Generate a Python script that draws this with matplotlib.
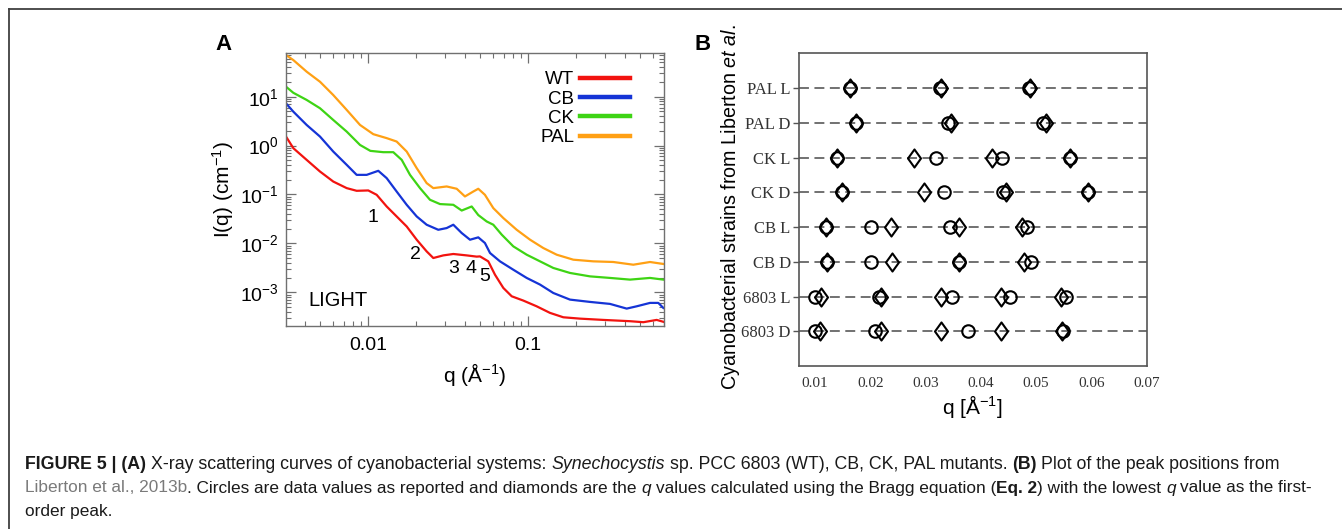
import matplotlib
matplotlib.use("Agg")
import matplotlib.pyplot as plt
import matplotlib.ticker as mticker
from matplotlib.transforms import IdentityTransform
from matplotlib.path import Path
import numpy as np

plt.rcParams['font.family'] = ['Liberation Sans', 'DejaVu Sans']
plt.rcParams['mathtext.fontset'] = 'custom'
plt.rcParams['mathtext.rm'] = 'Liberation Sans'
plt.rcParams['mathtext.it'] = 'Liberation Sans:italic'
plt.rcParams['mathtext.bf'] = 'Liberation Sans:bold'

# ---------------- Panel A data (SAXS curves) ----------------
q_wt = [0.00306, 0.0034, 0.00412, 0.00499, 0.00604, 0.00733, 0.00846, 0.0100, 0.01128,
        0.01303, 0.01504, 0.01738, 0.02007, 0.02316, 0.02549, 0.02943, 0.03399, 0.04121,
        0.04758, 0.04989, 0.05623, 0.06194, 0.06982, 0.07878, 0.09311, 0.1128, 0.1367,
        0.1656, 0.2104, 0.2943, 0.4323, 0.5236, 0.6344, 0.6982]
i_wt = [1.53, 0.885, 0.51, 0.295, 0.184, 0.135, 0.119, 0.121, 0.0986,
        0.0569, 0.0356, 0.0222, 0.0119, 0.00687, 0.00503, 0.00569, 0.00608, 0.00569,
        0.00537, 0.00543, 0.0043, 0.00229, 0.00123, 8.3e-4, 6.78e-4, 5.18e-4, 3.8e-4,
        3.09e-4, 2.9e-4, 2.73e-4, 2.57e-4, 2.45e-4, 2.73e-4, 2.5e-4]

q_cb = [0.00306, 0.0034, 0.00412, 0.00499, 0.00604, 0.00733, 0.00846, 0.00977, 0.01155,
        0.01303, 0.01504, 0.01738, 0.02007, 0.02316, 0.02738, 0.0309, 0.03399, 0.03836,
        0.04323, 0.04869, 0.05357, 0.05765, 0.06653, 0.08061, 0.09772, 0.1184, 0.1433,
        0.1822, 0.2430, 0.3241, 0.4121, 0.4758, 0.5765, 0.6494, 0.6982]
i_cb = [7.3, 4.94, 2.64, 1.53, 0.755, 0.404, 0.252, 0.252, 0.305,
        0.216, 0.115, 0.0616, 0.0356, 0.0241, 0.019, 0.0206, 0.0241, 0.0163,
        0.0119, 0.0133, 0.0102, 0.00637, 0.0043, 0.0029, 0.00197, 0.00144, 9.7e-4,
        7.1e-4, 6.37e-4, 5.8e-4, 4.65e-4, 5.18e-4, 6.08e-4, 6.08e-4, 4.8e-4]

q_ck = [0.00306, 0.0034, 0.00412, 0.00499, 0.00604, 0.00733, 0.00888, 0.0103, 0.0124,
        0.01433, 0.01618, 0.01823, 0.02105, 0.0243, 0.02807, 0.03399, 0.03836, 0.04429,
        0.04869, 0.05495, 0.06044, 0.06823, 0.08061, 0.09772, 0.1184, 0.1433, 0.1822,
        0.2430, 0.3241, 0.4323, 0.5765, 0.6982]
i_ck = [16.0, 12.0, 8.57, 5.8, 3.34, 1.93, 1.03, 0.78, 0.733,
        0.733, 0.51, 0.252, 0.135, 0.078, 0.0637, 0.0616, 0.047, 0.0569,
        0.038, 0.0281, 0.0241, 0.0151, 0.0087, 0.00588, 0.0043, 0.00315, 0.00249,
        0.00212, 0.00197, 0.00182, 0.00197, 0.00182]

q_pal = [0.00306, 0.0034, 0.00412, 0.00499, 0.00604, 0.00733, 0.00888, 0.01075, 0.01303,
         0.01504, 0.01738, 0.02007, 0.02316, 0.02549, 0.0309, 0.03569, 0.04019, 0.04532,
         0.04869, 0.05357, 0.06044, 0.06982, 0.08464, 0.1026, 0.1241, 0.1505, 0.1911,
         0.2547, 0.3399, 0.4532, 0.5765, 0.6982]
i_pal = [71, 56, 32.4, 20.2, 10.8, 5.36, 2.64, 1.71, 1.42,
         1.21, 0.755, 0.346, 0.171, 0.135, 0.146, 0.131, 0.0912, 0.115,
         0.131, 0.0986, 0.0527, 0.033, 0.019, 0.0119, 0.00805, 0.00588, 0.00465,
         0.0043, 0.00417, 0.00367, 0.00417, 0.0038]

series_names = ["WT", "CB", "CK", "PAL"]
series_colors = ["#f2130f", "#1534d6", "#3ed414", "#ffa014"]

peak_labels = ["1", "2", "3", "4", "5"]
peak_q = [0.0107, 0.0196, 0.0344, 0.0439, 0.0536]
peak_i = [0.0334, 0.00588, 0.00305, 0.00305, 0.00209]

# ---------------- Panel B data (peak positions) ----------------
strains = ["6803 D", "6803 L", "CB D", "CB L", "CK D", "CK L", "PAL D", "PAL L"]
circles = [
    [0.0100, 0.0209, 0.0376, 0.0549],
    [0.0100, 0.0215, 0.0348, 0.0452, 0.0554],
    [0.0122, 0.0202, 0.0361, 0.0490],
    [0.0120, 0.0202, 0.0344, 0.0483],
    [0.0149, 0.0334, 0.0440, 0.0594],
    [0.0140, 0.0319, 0.0439, 0.0561],
    [0.0175, 0.0341, 0.0513],
    [0.0164, 0.0326, 0.0487],
]
diamonds = [
    [0.0109, 0.0219, 0.0327, 0.0436, 0.0546],
    [0.0111, 0.0219, 0.0327, 0.0436, 0.0545],
    [0.0122, 0.0240, 0.0361, 0.0478],
    [0.0120, 0.0237, 0.0360, 0.0474],
    [0.0149, 0.0298, 0.0445, 0.0594],
    [0.0140, 0.0279, 0.0420, 0.0561],
    [0.0175, 0.0346, 0.0517],
    [0.0164, 0.0328, 0.0488],
]

W, H, DPI = 1342, 529, 100
fig = plt.figure(figsize=(W / DPI, H / DPI), dpi=DPI)

def fx(px):
    return px / W

def fy(py):
    return 1 - py / H

# figure frame lines (top and left)
fig.add_artist(plt.Line2D([fx(9), 1.0], [fy(9), fy(9)], color="#404040", lw=1.3))
fig.add_artist(plt.Line2D([fx(9), fx(9)], [fy(9), 0.0], color="#404040", lw=1.3))

# ---------------- Panel A ----------------
axA = fig.add_axes([fx(286), fy(326), fx(664) - fx(286), fy(53.3) - fy(326)])
for q, i, c, n in zip([q_wt, q_cb, q_ck, q_pal], [i_wt, i_cb, i_ck, i_pal],
                      series_colors, series_names):
    axA.plot(q, i, color=c, lw=1.6, label=n)
axA.set_xscale("log")
axA.set_yscale("log")
axA.set_xlim(0.00306, 0.705)
axA.set_ylim(2.05e-4, 77)
axA.xaxis.set_major_locator(mticker.LogLocator(base=10, numticks=10))
axA.xaxis.set_minor_locator(mticker.LogLocator(base=10, subs=np.arange(2, 10), numticks=20))
axA.xaxis.set_major_formatter(mticker.FuncFormatter(lambda v, p: "%g" % v))
axA.xaxis.set_minor_formatter(mticker.NullFormatter())
axA.yaxis.set_major_locator(mticker.LogLocator(base=10, numticks=10))
axA.yaxis.set_minor_locator(mticker.LogLocator(base=10, subs=np.arange(2, 10), numticks=20))
axA.yaxis.set_minor_formatter(mticker.NullFormatter())
axA.tick_params(which="both", direction="in", top=True, right=True, colors="#707070",
                labelcolor="black", labelsize=14)
axA.tick_params(which="major", length=7, width=0.9)
axA.tick_params(which="minor", length=3.5, width=0.8)
axA.tick_params(axis="x", pad=8)
axA.tick_params(axis="y", pad=5)
for s in axA.spines.values():
    s.set_color("#707070")
    s.set_linewidth(1.0)
axA.set_xlabel(r"q (Å$^{-1}$)", fontsize=15, labelpad=5)
axA.set_ylabel(r"I(q) (cm$^{-1}$)", fontsize=15, labelpad=3)
leg = axA.legend(loc="upper right", bbox_to_anchor=(0.929, 0.962), frameon=False,
                 markerfirst=False, fontsize=13.5, handlelength=2.65,
                 handletextpad=0.3, labelspacing=0.12, borderaxespad=0.0)
for h in leg.get_lines():
    h.set_linewidth(3.2)
for lab, q, i in zip(peak_labels, peak_q, peak_i):
    axA.text(q, i, lab, fontsize=14, ha="center", va="center")
axA.text(0.0042, 6.8e-4, "LIGHT", fontsize=14.5, ha="left", va="center")
fig.text(fx(223), fy(45), "A", fontsize=16, fontweight="bold", ha="center", va="center")

# ---------------- Panel B ----------------
axB = fig.add_axes([fx(799), fy(366), fx(1146.7) - fx(799), fy(53.3) - fy(366)])
ypos = np.arange(1, len(strains) + 1)
for y in ypos:
    axB.axhline(y, color="#4a4a4a", lw=1.1, ls=(0, (6.5, 3.6)), zorder=1)
diamond = Path([(0, 1), (0.72, 0), (0, -1), (-0.72, 0), (0, 1)],
               [Path.MOVETO, Path.LINETO, Path.LINETO, Path.LINETO, Path.CLOSEPOLY])
for y, cs, ds in zip(ypos, circles, diamonds):
    axB.plot(ds, [y] * len(ds), ls="none", marker=diamond, ms=13, mfc="none",
             mec="black", mew=1.5, zorder=3)
    axB.plot(cs, [y] * len(cs), ls="none", marker="o", ms=9, mfc="none",
             mec="black", mew=1.5, zorder=3)
axB.set_xlim(0.0071, 0.07)
axB.set_ylim(0, len(strains) + 1)
axB.set_yticks(ypos)
axB.set_yticklabels(strains, family=["Liberation Serif"], fontsize=12, color="#333333")
axB.set_xticks([0.01, 0.02, 0.03, 0.04, 0.05, 0.06, 0.07])
axB.set_xticklabels(["0.01", "0.02", "0.03", "0.04", "0.05", "0.06", "0.07"],
                    family=["Liberation Serif"], fontsize=11, color="#333333")
axB.tick_params(axis="y", direction="out", length=4, width=1.0, color="#555555", pad=2)
axB.tick_params(axis="x", length=0, pad=8)
for s in axB.spines.values():
    s.set_color("#555555")
    s.set_linewidth(1.2)
axB.set_xlabel(r"q [Å$^{-1}$]", fontsize=15, labelpad=2)
fig.text(fx(731), fy(207), r"Cyanobacterial strains from Liberton $\mathit{et\ al.}$",
         rotation=90, fontsize=14.2, ha="center", va="center")
fig.text(fx(703), fy(45), "B", fontsize=16, fontweight="bold", ha="center", va="center")

# ---------------- Caption ----------------
renderer = fig.canvas.get_renderer()
BOLD = dict(fontweight="bold")
NORM = dict()
ITAL = dict(fontstyle="italic")
GREY = dict(color="#7a7a7a")

cap_lines = [
    [("FIGURE 5 | (A)", BOLD), (" X-ray scattering curves of cyanobacterial systems: ", NORM),
     ("Synechocystis", ITAL), (" sp. PCC 6803 (WT), CB, CK, PAL mutants. ", NORM),
     ("(B)", BOLD), (" Plot of the peak positions from", NORM)],
    [("Liberton et al., 2013b", GREY),
     (". Circles are data values as reported and diamonds are the ", NORM), ("q", ITAL),
     (" values calculated using the Bragg equation (", NORM), ("Eq. 2", BOLD),
     (") with the lowest ", NORM), ("q", ITAL), (" value as the first-", NORM)],
    [("order peak.", NORM)],
]
cap_base = [H - 469, H - 492.5, H - 516]
cap_target = [1255.0, 1291.0, None]


def space_w(size, style):
    a = fig.text(0, 0, "a a", fontsize=size, transform=IdentityTransform(), **style)
    b = fig.text(0, 0, "aa", fontsize=size, transform=IdentityTransform(), **style)
    w = a.get_window_extent(renderer).width - b.get_window_extent(renderer).width
    a.remove(); b.remove()
    return w


def lay_line(pieces, x0, yb, size, draw=True):
    x = x0
    arts = []
    for txt, st in pieces:
        sw = space_w(size, st)
        lead = len(txt) - len(txt.lstrip(" "))
        trail = len(txt) - len(txt.rstrip(" "))
        core = txt.strip(" ")
        x += lead * sw
        kw = dict(color="#1a1a1a")
        kw.update(st)
        t = fig.text(x, yb, core, fontsize=size, transform=IdentityTransform(),
                     va="baseline", ha="left", **kw)
        w = t.get_window_extent(renderer).width
        x += w + trail * sw
        arts.append(t)
    if not draw:
        for a in arts:
            a.remove()
    return x - x0

base_size = 10.0
sizes = []
for pcs, yb, tgt in zip(cap_lines, cap_base, cap_target):
    if tgt is None:
        sz = sizes[-1]
    else:
        nat = lay_line(pcs, 25, yb, base_size, draw=False)
        sz = base_size * tgt / nat
    sizes.append(sz)
for pcs, yb, sz in zip(cap_lines, cap_base, sizes):
    lay_line(pcs, 25, yb, sz)

fig.savefig("out.png", dpi=DPI)
